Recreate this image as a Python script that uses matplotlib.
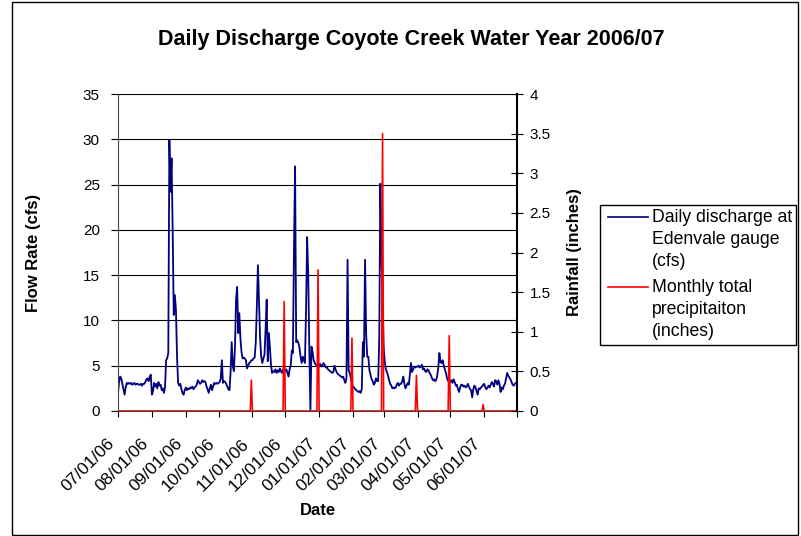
import datetime as dt
import matplotlib
matplotlib.use('Agg')
import matplotlib.pyplot as plt
from matplotlib.patches import Rectangle
from matplotlib.lines import Line2D
from matplotlib.ticker import FormatStrFormatter
from matplotlib.transforms import ScaledTranslation

plt.rcParams['font.family'] = ['Liberation Sans', 'DejaVu Sans']

################ data : daily discharge (cfs), one list per month ################

jul = [2.0, 3.2, 3.8, 3.6, 3.0, 2.4, 1.8, 2.6, 3.1, 3.0, 3.1, 3.0, 3.1, 2.9, 3.0, 3.1,
       2.9, 3.0, 3.0, 2.9, 2.9, 3.0, 2.8, 3.0, 3.0, 3.2, 3.5, 3.6, 3.3, 3.8, 4.0]
aug = [1.8, 2.2, 3.1, 2.7, 3.0, 2.5, 3.2, 2.8, 2.9, 2.3, 2.5, 2.0, 2.6, 5.6, 5.8, 6.4,
       29.9, 24.2, 27.9, 20.0, 10.6, 12.8, 11.2, 6.0, 3.1, 2.8, 3.0, 2.4, 2.0, 1.8, 2.3]
sep = [2.6, 2.3, 2.5, 2.4, 2.6, 2.5, 2.7, 2.4, 2.6, 2.7, 2.9, 3.4, 3.2, 3.0, 3.1,
       3.4, 3.2, 3.3, 3.2, 2.7, 2.4, 2.0, 2.5, 2.9, 2.3, 2.7, 3.1, 3.0, 3.1, 3.0]
oct_ = [3.1, 3.2, 3.6, 5.6, 3.1, 3.3, 3.2, 3.0, 2.7, 2.4, 2.3, 4.3, 7.6, 5.0, 4.4, 7.0,
        12.3, 13.7, 8.6, 10.8, 8.0, 6.5, 5.8, 5.9, 5.8, 5.6, 4.7, 5.0, 5.3, 5.4, 5.6]
nov = [5.6, 5.8, 5.9, 7.5, 11.5, 16.1, 12.0, 8.0, 6.0, 5.3, 5.8, 6.2, 9.0, 12.3, 5.5,
       8.6, 7.0, 5.0, 4.2, 4.4, 4.3, 4.6, 4.2, 4.5, 4.3, 4.7, 4.4, 4.2, 4.6, 4.5]
dec = [4.4, 4.6, 4.2, 3.8, 4.6, 5.0, 6.7, 6.4, 18.0, 27.0, 7.6, 7.8, 7.5, 7.0, 6.0, 5.3,
       6.0, 5.6, 5.3, 11.0, 19.2, 15.2, 7.0, 0.0, 7.1, 6.5, 5.6, 5.3, 5.1, 5.0, 4.9]
jan = [4.9, 5.2, 4.9, 5.0, 5.3, 5.1, 4.8, 4.9, 4.6, 4.5, 4.4, 4.3, 4.2, 4.3, 5.0, 4.6,
       4.3, 4.1, 4.0, 3.9, 3.8, 3.7, 3.8, 3.4, 3.1, 3.6, 16.7, 4.5, 4.2, 3.6, 3.0]
feb = [2.7, 2.6, 2.4, 2.3, 2.2, 2.1, 2.2, 2.0, 2.4, 7.6, 6.0, 16.7, 8.5, 6.0,
       6.0, 4.5, 4.0, 3.5, 3.3, 2.9, 3.1, 3.6, 3.3, 3.3, 8.2, 25.1, 17.0, 13.0]
mar = [7.1, 5.5, 4.6, 4.3, 3.9, 3.4, 3.0, 2.8, 2.5, 2.6, 2.5, 2.6, 2.9, 3.1, 2.8, 3.0,
       3.0, 3.3, 3.8, 3.0, 2.5, 2.8, 3.1, 2.9, 4.0, 5.3, 4.3, 4.6, 4.9, 4.8, 4.9]
apr = [4.9, 5.0, 4.8, 4.9, 5.1, 4.6, 4.7, 4.4, 4.3, 4.6, 4.5, 4.2, 4.0, 3.7, 3.4,
       3.5, 3.3, 3.4, 3.9, 4.8, 6.4, 5.4, 5.3, 5.6, 5.0, 4.6, 4.2, 3.6, 3.3, 3.2]
may = [3.2, 3.4, 3.1, 3.5, 3.2, 2.8, 2.9, 2.4, 2.1, 2.6, 2.9, 2.9, 2.7, 2.8, 2.6, 2.7,
       3.0, 2.7, 2.4, 2.3, 1.5, 2.4, 2.8, 2.6, 2.2, 1.8, 2.5, 2.4, 2.6, 2.7, 2.9]
jun = [3.0, 2.6, 2.4, 2.6, 2.8, 2.6, 2.9, 3.2, 3.0, 2.7, 3.4, 3.3, 2.9, 3.4, 3.0,
       2.1, 2.6, 2.4, 2.8, 3.0, 3.6, 4.2, 3.9, 3.7, 3.5, 3.2, 2.9, 2.8, 3.0, 3.1]

################ data : monthly rainfall totals (inches), put on last day of month ###

rain_dates = ['2006-10-31', '2006-11-30', '2006-12-31', '2007-01-31',
              '2007-02-28', '2007-03-31', '2007-04-30', '2007-05-31']
rain_totals = [0.39, 1.38, 1.78, 0.92, 3.50, 0.45, 0.95, 0.08]

tick_labels = ['07/01/06', '08/01/06', '09/01/06', '10/01/06', '11/01/06', '12/01/06',
               '01/01/07', '02/01/07', '03/01/07', '04/01/07', '05/01/07', '06/01/07']

flow_label = 'Daily discharge at\nEdenvale gauge\n(cfs)'
rain_label = 'Monthly total\nprecipitaiton\n(inches)'

################ build series ################

flow = jul + aug + sep + oct_ + nov + dec + jan + feb + mar + apr + may + jun
start = dt.datetime(2006, 7, 1)
days = [start + dt.timedelta(days=i) for i in range(len(flow))]

rain = [0.0] * len(days)
for d, v in zip(rain_dates, rain_totals):
    k = (dt.datetime.strptime(d, '%Y-%m-%d') - start).days
    rain[k] = v

################ plot ################

W, H = 801, 536
fig = plt.figure(figsize=(W / 100, H / 100), dpi=100)
fig.patches.append(Rectangle((12 / W, 0.002), 786 / W, 0.995, transform=fig.transFigure,
                             fill=False, edgecolor='black', linewidth=1.0))

ax = fig.add_axes([118 / W, 1 - 411 / H, 399 / W, 317 / H])
ax2 = ax.twinx()

l1, = ax.plot(days, flow, color='#000080', linewidth=1.3)
l2, = ax2.plot(days, rain, color='#ff0000', linewidth=1.2)

ax.set_ylim(0, 35)
ax.set_yticks(range(0, 36, 5))
ax2.set_ylim(0, 4)
ax2.set_yticks([0, 0.5, 1, 1.5, 2, 2.5, 3, 3.5, 4])
ax2.yaxis.set_major_formatter(FormatStrFormatter('%g'))

xticks = [dt.datetime(2006 + (6 + m) // 12, (6 + m) % 12 + 1, 1) for m in range(13)]
ax.set_xlim(xticks[0], xticks[-1])
ax.set_xticks(xticks)
ax.set_xticklabels(tick_labels + [''], rotation=45, ha='right', rotation_mode='anchor')

ax.yaxis.grid(True, color='black', linewidth=0.8)
ax.set_axisbelow(True)

for a in (ax, ax2):
    a.spines['top'].set_visible(False)
    a.tick_params(labelsize=11)
ax.spines['right'].set_visible(False)
ax2.spines['left'].set_visible(False)
ax2.spines['bottom'].set_visible(False)
ax.spines['left'].set_color('#444444')
ax.spines['bottom'].set_color('#444444')
ax2.spines['right'].set_linewidth(1.5)

ax.tick_params(axis='y', direction='out', length=5, pad=8)
ax.tick_params(axis='x', direction='out', length=4, pad=14, labelsize=12.5)
ax2.tick_params(axis='y', direction='inout', length=8, pad=5)

# nudge the date labels left (after tick_params, which resets transforms)
shift = ScaledTranslation(-8 / 72, 0, fig.dpi_scale_trans)
for lab in ax.get_xticklabels():
    lab.set_transform(lab.get_transform() + shift)

ax.set_ylabel('Flow Rate (cfs)', fontsize=12, fontweight='bold', labelpad=30)
ax2.set_ylabel('Rainfall (inches)', fontsize=12, fontweight='bold', labelpad=12)
ax.set_xlabel('Date', fontsize=12, fontweight='bold', labelpad=6)

fig.text(411 / W, 1 - 40 / H, 'Daily Discharge Coyote Creek Water Year 2006/07',
         ha='center', va='center', fontsize=15.5, fontweight='bold')

# legend drawn by hand: line on first text line, excel style
fig.patches.append(Rectangle((600 / W, 1 - 345 / H), 196 / W, 140 / H,
                             transform=fig.transFigure, fill=False,
                             edgecolor='black', linewidth=1.0))
y = 217
for line, label in [(l1, flow_label), (l2, rain_label)]:
    fig.add_artist(Line2D([608 / W, 648 / W], [1 - y / H, 1 - y / H],
                          color=line.get_color(), linewidth=1.2,
                          transform=fig.transFigure))
    for i, txt in enumerate(label.split('\n')):
        fig.text(652 / W, 1 - (y + 22.5 * i) / H, txt, va='center', fontsize=12.7)
    y += 70

fig.savefig('out.png', dpi=100)
